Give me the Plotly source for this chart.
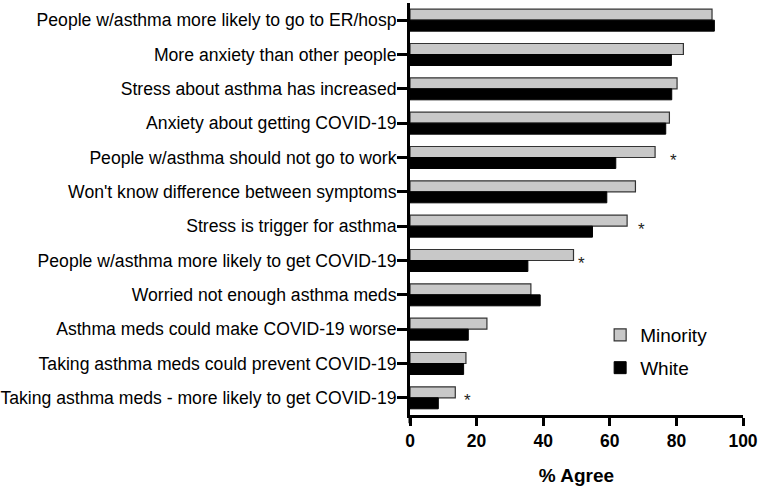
import plotly.graph_objects as go

categories = [
    "People w/asthma more likely to go to ER/hosp",
    "More anxiety than other people",
    "Stress about asthma has increased",
    "Anxiety about getting COVID-19",
    "People w/asthma should not go to work",
    "Won't know difference between symptoms",
    "Stress is trigger for asthma",
    "People w/asthma more likely to get COVID-19",
    "Worried not enough asthma meds",
    "Asthma meds could make COVID-19 worse",
    "Taking asthma meds could prevent COVID-19",
    "Taking asthma meds - more likely to get COVID-19",
]
minority = [90.7, 82.1, 80.2, 77.9, 73.6, 67.7, 65.2, 49.1, 36.3, 23.1, 16.8, 13.6]
white = [91.4, 78.5, 78.6, 76.8, 61.8, 59.1, 54.8, 35.4, 39.1, 17.5, 16.1, 8.5]
sig_categories = [
    "People w/asthma should not go to work",
    "Stress is trigger for asthma",
    "People w/asthma more likely to get COVID-19",
    "Taking asthma meds - more likely to get COVID-19",
]
sig_x = [79.1, 69.6, 51.5, 17.3]
x_ticks = [0, 20, 40, 60, 80, 100]

FONT = "Liberation Sans, Arial, sans-serif"

fig = go.Figure()
fig.add_trace(go.Bar(
    y=categories, x=minority, orientation="h", name="Minority",
    marker=dict(color="#c8c8c8", line=dict(color="#333333", width=1.2)),
    legendgroup="m",
))
fig.add_trace(go.Bar(
    y=categories, x=white, orientation="h", name="White",
    marker=dict(color="#000000", line=dict(color="#000000", width=1)),
    legendgroup="w",
))

for c, xv in zip(sig_categories, sig_x):
    fig.add_annotation(x=xv, y=c, text="*", showarrow=False,
                       font=dict(size=17, color="#222", family=FONT),
                       yshift=-3)

# y-axis line continues down past the x-axis (GraphPad style)
fig.add_shape(type="line", xref="paper", yref="paper",
              x0=0, x1=0, y0=0, y1=-0.02,
              line=dict(color="black", width=3))

fig.update_layout(
    width=759, height=488,
    margin=dict(l=410, r=16, t=3, b=73),
    paper_bgcolor="white", plot_bgcolor="white",
    barmode="group", bargap=0.36, bargroupgap=0,
    font=dict(family=FONT, color="black"),
    legend=dict(x=0.571, y=0.24, xanchor="left", yanchor="top",
                font=dict(size=19, family=FONT), tracegroupgap=5,
                bgcolor="rgba(0,0,0,0)", itemwidth=30),
    showlegend=True,
)
fig.update_xaxes(
    range=[0, 100], tickvals=x_ticks, ticktext=[str(t) for t in x_ticks],
    showgrid=False, zeroline=False, automargin=False,
    showline=True, linecolor="black", linewidth=3,
    ticks="outside", ticklen=8, tickwidth=3, tickcolor="black",
    tickfont=dict(size=17.5, family=FONT, weight="bold"),
    title=dict(text="<b>% Agree</b>", font=dict(size=19, family=FONT), standoff=19),
)
fig.update_yaxes(
    autorange="reversed", showgrid=False, zeroline=False, automargin=False,
    showline=True, linecolor="black", linewidth=3,
    ticks="outside", ticklen=10, tickwidth=3, tickcolor="black",
    ticklabelstandoff=-3,
    tickfont=dict(size=17.6, family=FONT),
)

fig.write_html("out.html", config={"displayModeBar": False},
               post_script="document.body.style.margin='0';")
